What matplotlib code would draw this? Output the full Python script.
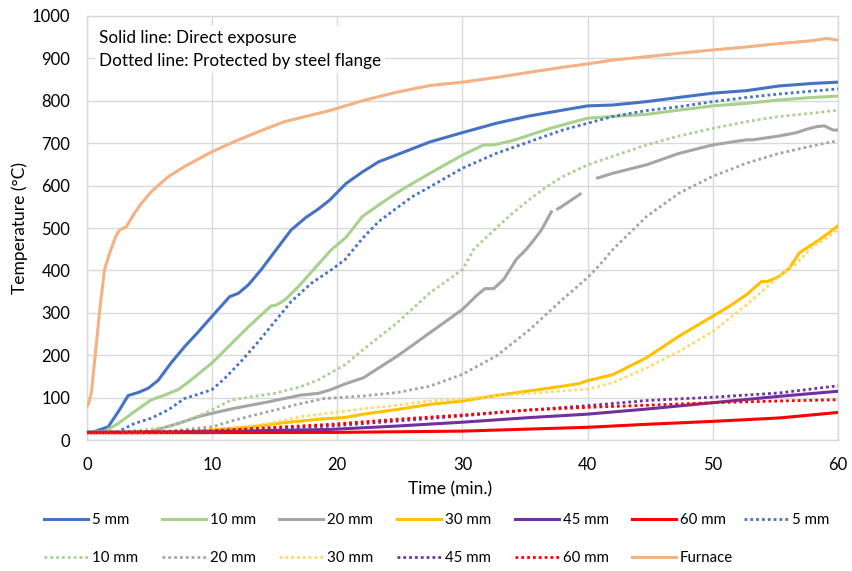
import numpy as np
import matplotlib
matplotlib.use("Agg")
import matplotlib.pyplot as plt

plt.rcParams['font.family'] = ['Lato', 'DejaVu Sans']

# furnace
t_furnace = [0, 0.1, 0.35, 0.6, 1.0, 1.4, 1.9, 2.3, 2.6, 3.15, 3.8, 4.35, 5.15, 6.5, 7.8, 10, 11.8,
             13.7, 15.8, 19.4, 22, 24.7, 27.4, 30, 32.7, 35.3, 38, 40, 42, 44.7, 47.3, 50, 52.7,
             55.3, 58, 59.1, 60]
T_furnace = [80, 83, 110, 181, 299, 401, 448, 480, 495, 503, 535, 558, 586, 621, 645, 680, 704,
             727, 751, 777, 800, 820, 836, 844, 855, 867, 879, 887, 896, 904, 912, 920, 927,
             935, 942, 947, 943]

# direct exposure (solid)
t_5 = [0, 0.6, 1.7, 2.6, 3.3, 4.1, 4.9, 5.7, 6.7, 7.8, 8.9, 10, 11.4, 12.1, 12.9, 13.9, 15, 16.3,
       17.5, 18.5, 19.4, 20.7, 22, 23.3, 24.7, 27.4, 30, 32.7, 35.3, 38, 40, 42, 44.7, 47.3, 50,
       52.7, 55.3, 58, 60]
T_5 = [18, 20, 31, 71, 105, 112, 122, 141, 181, 220, 255, 292, 338, 346, 366, 401, 444, 495,
       525, 545, 566, 605, 632, 656, 672, 703, 725, 747, 764, 778, 788, 790, 798, 808, 818,
       824, 835, 841, 844]

t_10 = [0, 1.4, 2.5, 3.8, 5.1, 6.2, 7.3, 8.3, 10, 11.3, 12.9, 14.7, 15.1, 15.8, 16.9, 18.2, 19.5,
        20.7, 22, 23.3, 24.7, 26, 27.4, 30, 31.7, 32.5, 34.1, 37, 40, 42, 44.7, 47.3, 50, 52.7,
        55.3, 58, 60]
T_10 = [18, 20, 39, 67, 94, 106, 119, 141, 182, 220, 267, 316, 318, 330, 362, 405, 448,
        478, 527, 554, 582, 605, 629, 672, 696, 696, 707, 735, 759, 763, 768, 778, 788, 794,
        802, 808, 811]

t_20 = [0, 5.1, 7.3, 8.9, 10, 11.8, 14.5, 17.1, 18.5, 19.5, 20.6, 22.1, 24.8, 27.4, 30, 31.1,
        31.8, 32.5, 33.3, 34.3, 35.1, 35.5, 36.3, 37.1, 37.3, 37.6, 37.9, 39.4, 40.1, 40.8, 42,
        44.7, 47.3, 50, 52.7, 53.2, 55.3, 56.7, 57.5, 58.3, 58.9, 59.6, 60]
T_20 = [18, 20, 39, 55, 63, 75, 90, 106, 110, 119, 132, 147, 198, 253, 308, 340,
        357, 357, 379, 426, 450, 464, 495, 538, np.nan, 545, 550, 580, np.nan, 618, 629,
        649, 676, 696, 708, 708, 717, 725, 733, 739, 741, 731, 731]

t_30 = [0, 7.8, 10, 13.1, 15.8, 18.5, 20.6, 22.1, 24.8, 27.4, 30, 32.7, 35.4, 38, 39.3, 40, 42,
        44.7, 47.3, 50, 51.3, 52.7, 53.9, 54.4, 55.3, 56.1, 56.9, 57.7, 58.5, 60]
T_30 = [18, 18, 24, 31, 41, 49, 53, 61, 72, 84, 92, 105, 116, 127, 133, 140, 154,
        194, 245, 292, 315, 343, 374, 374, 386, 405, 441, 457, 472, 505]

t_45 = [0, 10, 19.5, 24.8, 30, 35.4, 40, 44.7, 50, 55.3, 60]
T_45 = [18, 20, 25, 33, 42, 53, 61, 73, 88, 103, 115]

t_60 = [0, 20, 30, 40, 44.7, 50, 55.3, 60]
T_60 = [17, 18, 21, 30, 37, 44, 52, 65]

# protected by steel flange (dotted)
tp_5 = [0, 2.5, 3.8, 5.1, 6.5, 7.8, 8.9, 10, 11, 12.3, 13.7, 15, 16.3, 17.9, 19.5, 20.6, 22,
        23.3, 24.7, 26, 27.4, 30, 32.7, 35.3, 38, 40, 42, 44.7, 47.3, 50, 52.7, 55.3, 58, 60]
Tp_5 = [18, 20, 39, 51, 71, 98, 108, 119, 145, 185, 232, 279, 326, 369, 401, 425, 475,
        515, 546, 574, 597, 641, 676, 703, 731, 747, 763, 777, 786, 798, 808, 816, 823, 828]

tp_10 = [0, 3, 5, 6.5, 7.8, 10, 11.5, 13.1, 15, 17.1, 18.5, 19.5, 20.6, 22.1, 24.8, 27.4, 30,
         30.9, 32.7, 34, 35.3, 36.7, 38, 40, 42, 44.7, 47.3, 50, 52.7, 55.3, 58, 60]
Tp_10 = [18, 20, 25, 31, 43, 71, 94, 102, 110, 126, 142, 159, 177, 214, 277, 347, 402,
         450, 500, 535, 566, 597, 621, 649, 669, 696, 717, 735, 751, 763, 771, 778]

tp_20 = [0, 6.5, 8.9, 10, 11.8, 14.5, 17.1, 19, 20.6, 22.1, 24.8, 27.4, 30, 32.7, 35.4, 38, 40,
         41, 42, 44.7, 47.3, 50, 52.7, 55.3, 58, 60]
Tp_20 = [18, 20, 28, 31, 47, 67, 86, 98, 101, 104, 112, 127, 155, 198, 261, 332, 383,
         414, 449, 527, 582, 622, 653, 676, 694, 706]

tp_30 = [0, 10, 11.8, 14.5, 17.1, 19.5, 22.1, 24.8, 27.4, 30, 32.7, 35.4, 38, 40, 42, 44.7,
         47.3, 50, 52.7, 55.3, 56.7, 58, 58.9, 60]
Tp_30 = [18, 20, 28, 39, 55, 64, 74, 82, 92, 97, 104, 110, 116, 120, 135, 170,
         209, 256, 319, 386, 417, 457, 472, 497]

tp_45 = [0, 10, 19.5, 24.8, 30, 35, 40, 44.7, 50, 55.3, 60]
Tp_45 = [18, 20, 33, 45, 57, 70, 81, 93, 101, 111, 128]

tp_60 = [0, 10, 19.5, 24.8, 30, 35.4, 40, 44.7, 50, 55.3, 60]
Tp_60 = [18, 22, 37, 49, 59, 71, 77, 82, 88, 92, 95]

labels = ['5 mm', '10 mm', '20 mm', '30 mm', '45 mm', '60 mm']
colors = ['#4472C4', '#A9D18E', '#A5A5A5', '#FFC000', '#7030A0', '#FF0000']
dot_colors = ['#4472C4', '#A9D18E', '#A5A5A5', '#FFD966', '#7030A0', '#FF0000']

solid = [(t_5, T_5), (t_10, T_10), (t_20, T_20), (t_30, T_30), (t_45, T_45), (t_60, T_60)]
dotted = [(tp_5, Tp_5), (tp_10, Tp_10), (tp_20, Tp_20), (tp_30, Tp_30), (tp_45, Tp_45), (tp_60, Tp_60)]

fig = plt.figure(figsize=(8.52, 5.71), dpi=100)
ax = fig.add_axes([0.102, 0.2294, 0.8816, 0.7426])

handles = []
for (t, T), lab, c in zip(solid, labels, colors):
    h, = ax.plot(t, T, color=c, lw=2.2, label=lab, zorder=3)
    handles.append(h)
for (t, T), lab, c in zip(dotted, labels, dot_colors):
    h, = ax.plot(t, T, color=c, lw=2.0, ls=(0, (1, 1.1)), label=lab, zorder=3)
    handles.append(h)
h, = ax.plot(t_furnace, T_furnace, color='#F4B183', lw=2.2, label='Furnace', zorder=3)
handles.append(h)

ax.set_xlim(0, 60)
ax.set_ylim(0, 1000)
ax.set_xticks(range(0, 61, 10))
ax.set_yticks(range(0, 1001, 100))
ax.grid(True, color='#D9D9D9', lw=1.0)
ax.set_axisbelow(True)
for s in ax.spines.values():
    s.set_color('#D9D9D9')
    s.set_linewidth(1.0)
ax.tick_params(length=0, labelsize=12, colors='#000000')
ax.tick_params(axis='x', pad=12)
ax.tick_params(axis='y', pad=12)
ax.set_xlabel('Time (min.)', fontsize=12.5)
ax.set_ylabel('Temperature (°C)', fontsize=12.5)
ax.xaxis.set_label_coords(0.483, -0.097)
ax.yaxis.set_label_coords(-0.078, 0.5)

ax.text(0.016, 0.967, 'Solid line: Direct exposure\nDotted line: Protected by steel flange',
        transform=ax.transAxes, fontsize=12.3, va='top', ha='left', linespacing=1.55,
        bbox=dict(facecolor='white', edgecolor='none', pad=3), zorder=4)

# legend: solid row on top, dotted row below (row-major order, 6 columns)
leg_kw = dict(loc='upper left', frameon=False, fontsize=10.8, handlelength=2.93,
              handletextpad=0.27, columnspacing=1.56, labelspacing=1.6,
              borderaxespad=0, borderpad=0)
order = [0, 7, 1, 8, 2, 9, 3, 10, 4, 11, 5, 12]
fig.legend([handles[i] for i in order], [handles[i].get_label() for i in order],
           ncol=6, bbox_to_anchor=(0.052, 0.101), **leg_kw)
# the first dotted entry wraps to the end of the top row
fig.legend([handles[6]], [handles[6].get_label()], ncol=1,
           bbox_to_anchor=(0.873, 0.101), **leg_kw)

fig.savefig('out.png', dpi=100)
